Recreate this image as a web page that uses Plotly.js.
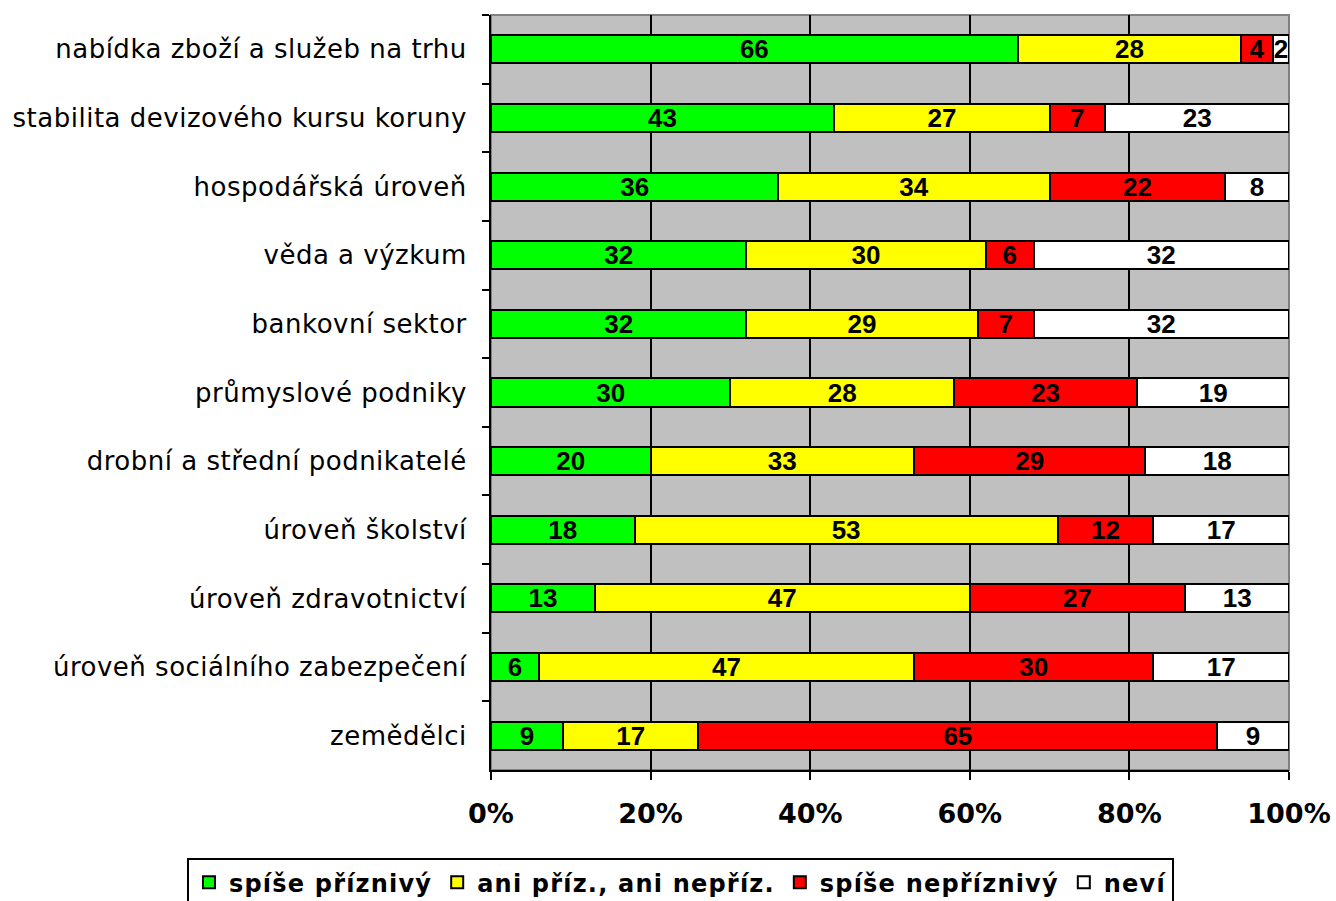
<!DOCTYPE html>
<html>
<head>
<meta charset="utf-8">
<script src="https://cdn.plot.ly/plotly-3.0.1.min.js"></script>
<style>
html, body { margin: 0; padding: 0; background: #fff; }
#chart { width: 1336px; height: 901px; }
.ytick text { letter-spacing: 0.5px; }
.legendtext { letter-spacing: 1.2px; }
</style>
</head>
<body>
<div id="chart"></div>
<script>
const categories = [
  "nabídka zboží a služeb na trhu",
  "stabilita devizového kursu koruny",
  "hospodářská úroveň",
  "věda a výzkum",
  "bankovní sektor",
  "průmyslové podniky",
  "drobní a střední podnikatelé",
  "úroveň školství",
  "úroveň zdravotnictví",
  "úroveň sociálního zabezpečení",
  "zemědělci"
];
const seriesNames = ["spíše příznivý", "ani příz., ani nepříz.", "spíše nepříznivý", "neví"];
const priznivy    = [66, 43, 36, 32, 32, 30, 20, 18, 13,  6,  9];
const ani         = [28, 27, 34, 30, 29, 28, 33, 53, 47, 47, 17];
const nepriznivy  = [ 4,  7, 22,  6,  7, 23, 29, 12, 27, 30, 65];
const nevi        = [ 2, 23,  8, 32, 32, 19, 18, 17, 13, 17,  9];
const xTickVals = [0, 20, 40, 60, 80, 100];
const xTickText = ["0%", "20%", "40%", "60%", "80%", "100%"];

const colors = ["#00FF00", "#FFFF00", "#FF0000", "#FFFFFF"];
const values = [priznivy, ani, nepriznivy, nevi];

const traces = values.map((v, i) => ({
  type: "bar",
  orientation: "h",
  name: seriesNames[i],
  y: categories,
  x: v,
  text: v.map(String),
  texttemplate: "%{text}",
  marker: { color: colors[i], line: { color: "#000000", width: 2 } },
  textposition: "inside",
  insidetextanchor: "middle",
  constraintext: "none",
  textangle: 0,
  insidetextfont: { family: "Liberation Sans, Arial, sans-serif", size: 26, color: "#000000", weight: "bold" },
  hoverinfo: "skip"
}));

const layout = {
  width: 1336,
  height: 901,
  barmode: "stack",
  bargap: 0.59,
  paper_bgcolor: "#FFFFFF",
  plot_bgcolor: "#C0C0C0",
  margin: { l: 491, r: 47, t: 15, b: 131, pad: 0, autoexpand: false },
  showlegend: true,
  legend: {
    orientation: "h",
    x: -0.381, xanchor: "left",
    y: -0.1166, yanchor: "top",
    bordercolor: "#000000",
    borderwidth: 2,
    bgcolor: "#FFFFFF",
    font: { family: "DejaVu Sans, Verdana, sans-serif", size: 24, color: "#000000", weight: "bold" },
    traceorder: "normal",
    itemclick: false
  },
  xaxis: {
    range: [0, 100],
    tickvals: xTickVals,
    ticktext: xTickText,
    showgrid: true,
    gridcolor: "#000000",
    gridwidth: 2,
    zeroline: false,
    showline: true,
    linecolor: "#000000",
    linewidth: 2,
    ticks: "outside",
    ticklen: 8,
    tickwidth: 2,
    tickcolor: "#000000",
    ticklabelstandoff: 11,
    tickfont: { family: "DejaVu Sans, Verdana, sans-serif", size: 27, color: "#000000", weight: "bold" },
    fixedrange: true
  },
  yaxis: {
    type: "category",
    autorange: "reversed",
    tickson: "boundaries",
    showgrid: false,
    zeroline: false,
    showline: true,
    linecolor: "#000000",
    linewidth: 2,
    ticks: "outside",
    ticklen: 7,
    tickwidth: 2,
    tickcolor: "#000000",
    ticklabelstandoff: 17,
    tickfont: { family: "DejaVu Sans, Verdana, sans-serif", size: 26, color: "#000000" },
    fixedrange: true
  },
  shapes: [{
    type: "rect", xref: "paper", yref: "paper",
    x0: 0, x1: 1, y0: 0, y1: 1,
    line: { color: "#808080", width: 2 },
    layer: "below"
  }]
};

Plotly.newPlot("chart", traces, layout, { displayModeBar: false, staticPlot: true });
</script>
</body>
</html>
